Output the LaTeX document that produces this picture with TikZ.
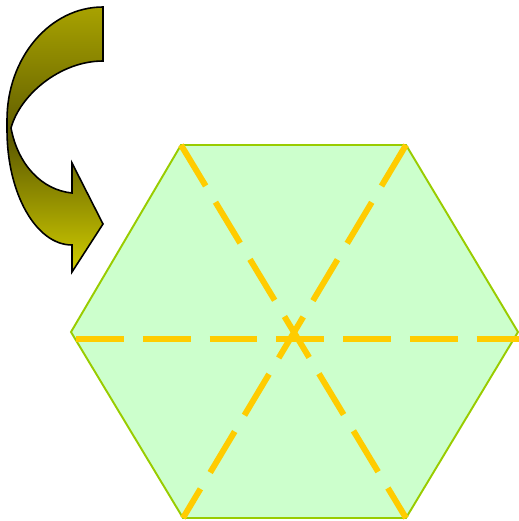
\documentclass[tikz,border=0pt]{standalone}
\usepackage{tikz}
\usetikzlibrary{calc}
\definecolor{hexgreen}{HTML}{CCFFCC}
\definecolor{hexedge}{HTML}{99CC00}
\definecolor{diagyellow}{HTML}{FFCC00}
\definecolor{olivetop}{HTML}{A8A200}
\definecolor{olivemid}{HTML}{5E5B00}
\definecolor{olivebot}{HTML}{D2CE00}
\tikzset{
  hexface/.style={draw=hexedge, fill=hexgreen, line width=1.1pt, line join=miter},
  diagline/.style={draw=diagyellow, line width=3.4pt, dash pattern=on 27.2pt off 10.8pt},
  turnarrow/.style={draw=black, line width=0.9pt, line join=miter,
                    top color=olivetop, bottom color=olivebot, middle color=olivemid}
}

\begin{document}
\begin{tikzpicture}[x=0.02cm, y=-0.02cm]
  \useasboundingbox (0,0) rectangle (519,521);
  % hexagon corners
  \coordinate (TL) at (181,145);
  \coordinate (TR) at (406,145);
  \coordinate (R)  at (518,332);
  \coordinate (BR) at (406,518);
  \coordinate (BL) at (183,518);
  \coordinate (L)  at (71,332);
  \coordinate (HL) at (76,339);
  \coordinate (HR) at (519,339);
  \draw[hexface] (TL) -- (TR) -- (R) -- (BR) -- (BL) -- (L) -- cycle;
  \draw[diagline] (HL) -- (HR);
  \draw[diagline] (TL) -- (BR);
  \draw[diagline] (TR) -- (BL);
  % curved arrow
  \draw[turnarrow] (103,7) .. controls (50,7) and (7,57.6) .. (7,120)
    -- (7,130) .. controls (7,193.5) and (36.1,245) .. (72,245)
    -- (72,272) -- (103,224) -- (72,163) -- (72,193)
    .. controls (42,190) and (18,165) .. (11,128)
    .. controls (20,95) and (60,61) .. (103,61) -- cycle;
\end{tikzpicture}
\end{document}
